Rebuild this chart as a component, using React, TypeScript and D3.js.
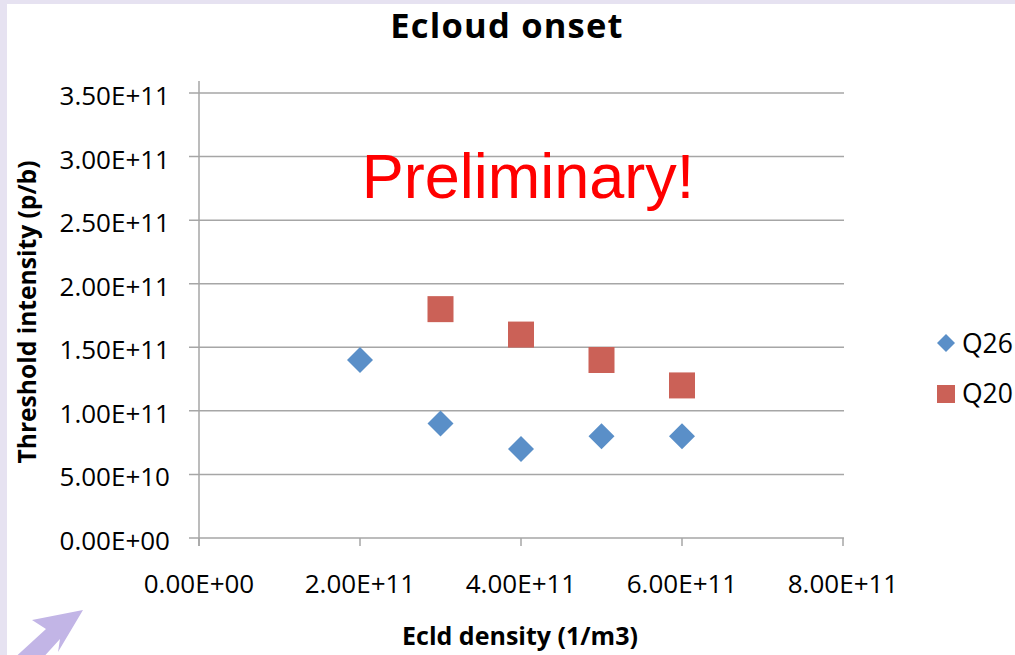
import React from "react";
import * as d3 from "d3";

const q26X = [2e11, 3e11, 4e11, 5e11, 6e11];
const q26Y = [1.4e11, 0.9e11, 0.7e11, 0.8e11, 0.8e11];
const q20X = [3e11, 4e11, 5e11, 6e11];
const q20Y = [1.8e11, 1.6e11, 1.4e11, 1.2e11];
const xTicks = [0, 2e11, 4e11, 6e11, 8e11];
const xTickLabels = ["0.00E+00", "2.00E+11", "4.00E+11", "6.00E+11", "8.00E+11"];
const yTicks = [0, 0.5e11, 1e11, 1.5e11, 2e11, 2.5e11, 3e11, 3.5e11];
const yTickLabels = ["0.00E+00", "5.00E+10", "1.00E+11", "1.50E+11", "2.00E+11", "2.50E+11", "3.00E+11", "3.50E+11"];
const seriesNames = ["Q26", "Q20"];

const W = 1015;
const H = 655;
const FONT = "'Open Sans', Lato, sans-serif";
const BLUE = "#5A8FC8";
const RED = "#CB6157";

export default function App() {
  const x = d3.scaleLinear().domain([0, 8e11]).range([199, 843]);
  const y = d3.scaleLinear().domain([0, 3.5e11]).range([538, 93]);
  const diamond = (cx: number, cy: number, r: number) =>
    `M${cx},${cy - r}L${cx + r},${cy}L${cx},${cy + r}L${cx - r},${cy}Z`;

  return (
    <svg width={W} height={H} style={{ position: "absolute", left: 0, top: 0 }} fontFamily={FONT}>
      <rect x={0} y={0} width={W} height={H} fill="#E6E2F1" />
      <rect x={7} y={4} width={W - 7} height={H - 4} fill="#FFFFFF" />
      {/* arrow decoration */}
      <g fill="#C2B5E6">
        <polygon points="83,610 32,620 46,629 10,662 30,672 60,639 58,652" />
      </g>
      {/* gridlines */}
      {yTicks.map((t, i) => (
        <line key={"g" + i} x1={189} x2={844} y1={y(t)} y2={y(t)} stroke="#A6A6A6" strokeWidth={1.5} />
      ))}
      {/* y axis */}
      <line x1={199} x2={199} y1={y(3.5e11) - 12} y2={546} stroke="#A6A6A6" strokeWidth={1.5} />
      {xTicks.map((t, i) => (
        <line key={"xt" + i} x1={x(t)} x2={x(t)} y1={538} y2={546} stroke="#A6A6A6" strokeWidth={1.5} />
      ))}
      {/* y tick labels */}
      {yTicks.map((t, i) => (
        <text key={"yl" + i} x={170} y={y(t) + 12} textAnchor="end" fontSize={26} fill="#000">
          {yTickLabels[i]}
        </text>
      ))}
      {xTicks.map((t, i) => (
        <text key={"xl" + i} x={x(t)} y={593} textAnchor="middle" fontSize={26} fill="#000">
          {xTickLabels[i]}
        </text>
      ))}
      {/* titles */}
      <text x={507} y={38} textAnchor="middle" fontSize={34.5} letterSpacing={1.2} fontWeight="bold" fill="#000">
        Ecloud onset
      </text>
      <text x={520} y={645} textAnchor="middle" fontSize={25} fontWeight="bold" fill="#000">
        Ecld density (1/m3)
      </text>
      <text
        transform={`translate(36,${312}) rotate(-90)`}
        textAnchor="middle"
        fontSize={24.6}
        fontWeight="bold"
        fill="#000"
      >
        Threshold intensity (p/b)
      </text>
      <text x={528} y={198} textAnchor="middle" fontSize={63} fill="#FF0000" fontFamily="'Liberation Sans', Arial, sans-serif">
        Preliminary!
      </text>
      {/* data */}
      {q20X.map((v, i) => (
        <rect key={"q20" + i} x={x(v) - 13} y={y(q20Y[i]) - 13} width={26} height={26} fill={RED} />
      ))}
      {q26X.map((v, i) => (
        <path key={"q26" + i} d={diamond(x(v), y(q26Y[i]), 13)} fill={BLUE} />
      ))}
      {/* legend */}
      <path d={diamond(946, 343, 9)} fill={BLUE} />
      <text x={962} y={353} fontSize={26.5} fill="#000">{seriesNames[0]}</text>
      <rect x={937} y={385} width={18} height={18} fill={RED} />
      <text x={962} y={403} fontSize={26.5} fill="#000">{seriesNames[1]}</text>
    </svg>
  );
}
